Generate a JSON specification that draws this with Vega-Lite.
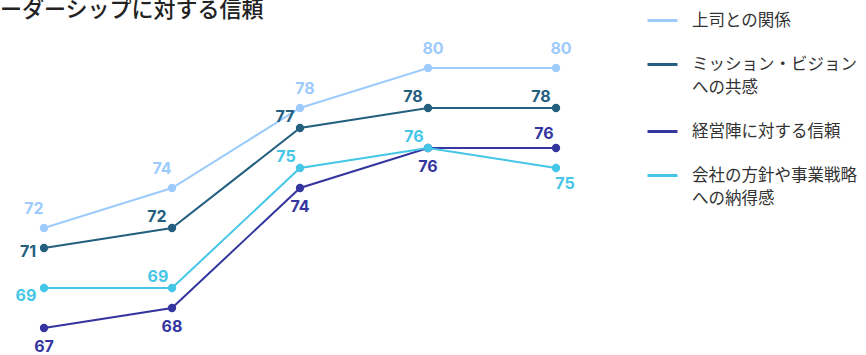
{
  "$schema": "https://vega.github.io/schema/vega-lite/v6.json",
  "width": 866,
  "height": 355,
  "autosize": {"type": "none"},
  "padding": 0,
  "background": "white",
  "config": {"view": {"stroke": null}, "font": "Noto Sans CJK JP"},
  "title": {
    "text": "リーダーシップに対する信頼",
    "anchor": "start",
    "orient": "top",
    "font": "Noto Sans CJK JP",
    "fontSize": 22,
    "fontWeight": 500,
    "color": "#222222",
    "dx": -22,
    "offset": -22
  },
  "data": {
    "values": [
      {"s": "上司との関係", "t": 0, "v": 72},
      {"s": "上司との関係", "t": 1, "v": 74},
      {"s": "上司との関係", "t": 2, "v": 78},
      {"s": "上司との関係", "t": 3, "v": 80},
      {"s": "上司との関係", "t": 4, "v": 80},
      {"s": "ミッション・ビジョンへの共感", "t": 0, "v": 71},
      {"s": "ミッション・ビジョンへの共感", "t": 1, "v": 72},
      {"s": "ミッション・ビジョンへの共感", "t": 2, "v": 77},
      {"s": "ミッション・ビジョンへの共感", "t": 3, "v": 78},
      {"s": "ミッション・ビジョンへの共感", "t": 4, "v": 78},
      {"s": "経営陣に対する信頼", "t": 0, "v": 67},
      {"s": "経営陣に対する信頼", "t": 1, "v": 68},
      {"s": "経営陣に対する信頼", "t": 2, "v": 74},
      {"s": "経営陣に対する信頼", "t": 3, "v": 76},
      {"s": "経営陣に対する信頼", "t": 4, "v": 76},
      {"s": "会社の方針や事業戦略への納得感", "t": 0, "v": 69},
      {"s": "会社の方針や事業戦略への納得感", "t": 1, "v": 69},
      {"s": "会社の方針や事業戦略への納得感", "t": 2, "v": 75},
      {"s": "会社の方針や事業戦略への納得感", "t": 3, "v": 76},
      {"s": "会社の方針や事業戦略への納得感", "t": 4, "v": 75}
    ]
  },
  "encoding": {
    "x": {"field": "t", "type": "quantitative", "axis": null, "scale": {"domain": [-0.34375, 6.421875], "nice": false, "zero": false}},
    "y": {"field": "v", "type": "quantitative", "axis": null, "scale": {"domain": [65.65, 83.4], "nice": false, "zero": false}},
    "color": {
      "field": "s",
      "type": "nominal",
      "sort": ["上司との関係", "ミッション・ビジョンへの共感", "経営陣に対する信頼", "会社の方針や事業戦略への納得感"],
      "scale": {
        "domain": ["上司との関係", "ミッション・ビジョンへの共感", "経営陣に対する信頼", "会社の方針や事業戦略への納得感"],
        "range": ["#9dcbfb", "#245f80", "#34359f", "#45c6e6"]
      },
      "legend": {
        "title": null,
        "orient": "none",
        "legendX": 646,
        "legendY": 4,
        "symbolType": "stroke",
        "symbolSize": 900,
        "symbolStrokeWidth": 3,
        "labelFont": "Noto Sans CJK JP",
        "labelFontSize": 16.5,
        "labelColor": "#333333",
        "labelOffset": 13,
        "labelLimit": 300,
        "rowPadding": 19,
        "labelExpr": "datum.label == 'ミッション・ビジョンへの共感' ? ['ミッション・ビジョン', 'への共感'] : datum.label == '会社の方針や事業戦略への納得感' ? ['会社の方針や事業戦略', 'への納得感'] : datum.label",
        "encode": {"labels": {"update": {"lineHeight": {"value": 23}}}}
      }
    }
  },
  "layer": [
    {"mark": {"type": "line", "strokeWidth": 2}},
    {"mark": {"type": "point", "filled": true, "opacity": 1, "size": 70}},
    {
      "transform": [{"filter": "datum.s == '上司との関係' && datum.t <= 1"}],
      "mark": {"type": "text", "dx": -10, "dy": -19, "font": "Inter", "fontSize": 16, "fontWeight": "bold"},
      "encoding": {"text": {"field": "v"}}
    },
    {
      "transform": [{"filter": "datum.s == '上司との関係' && datum.t >= 2"}],
      "mark": {"type": "text", "dx": 5, "dy": -19, "font": "Inter", "fontSize": 16, "fontWeight": "bold"},
      "encoding": {"text": {"field": "v"}}
    },
    {
      "transform": [{"filter": "datum.s == 'ミッション・ビジョンへの共感' && datum.t == 0"}],
      "mark": {"type": "text", "dx": -16, "dy": 4, "font": "Inter", "fontSize": 16, "fontWeight": "bold"},
      "encoding": {"text": {"field": "v"}}
    },
    {
      "transform": [{"filter": "datum.s == 'ミッション・ビジョンへの共感' && datum.t >= 1"}],
      "mark": {"type": "text", "dx": -15, "dy": -11, "font": "Inter", "fontSize": 16, "fontWeight": "bold"},
      "encoding": {"text": {"field": "v"}}
    },
    {
      "transform": [{"filter": "datum.s == '会社の方針や事業戦略への納得感' && datum.t == 0"}],
      "mark": {"type": "text", "dx": -18, "dy": 8, "font": "Inter", "fontSize": 16, "fontWeight": "bold"},
      "encoding": {"text": {"field": "v"}}
    },
    {
      "transform": [{"filter": "datum.s == '会社の方針や事業戦略への納得感' && datum.t >= 1 && datum.t <= 3"}],
      "mark": {"type": "text", "dx": -14, "dy": -11, "font": "Inter", "fontSize": 16, "fontWeight": "bold"},
      "encoding": {"text": {"field": "v"}}
    },
    {
      "transform": [{"filter": "datum.s == '会社の方針や事業戦略への納得感' && datum.t == 4"}],
      "mark": {"type": "text", "dx": 9, "dy": 16, "font": "Inter", "fontSize": 16, "fontWeight": "bold"},
      "encoding": {"text": {"field": "v"}}
    },
    {
      "transform": [{"filter": "datum.s == '経営陣に対する信頼' && datum.t <= 3"}],
      "mark": {"type": "text", "dx": 0, "dy": 19, "font": "Inter", "fontSize": 16, "fontWeight": "bold"},
      "encoding": {"text": {"field": "v"}}
    },
    {
      "transform": [{"filter": "datum.s == '経営陣に対する信頼' && datum.t == 4"}],
      "mark": {"type": "text", "dx": -12, "dy": -14, "font": "Inter", "fontSize": 16, "fontWeight": "bold"},
      "encoding": {"text": {"field": "v"}}
    }
  ]
}
